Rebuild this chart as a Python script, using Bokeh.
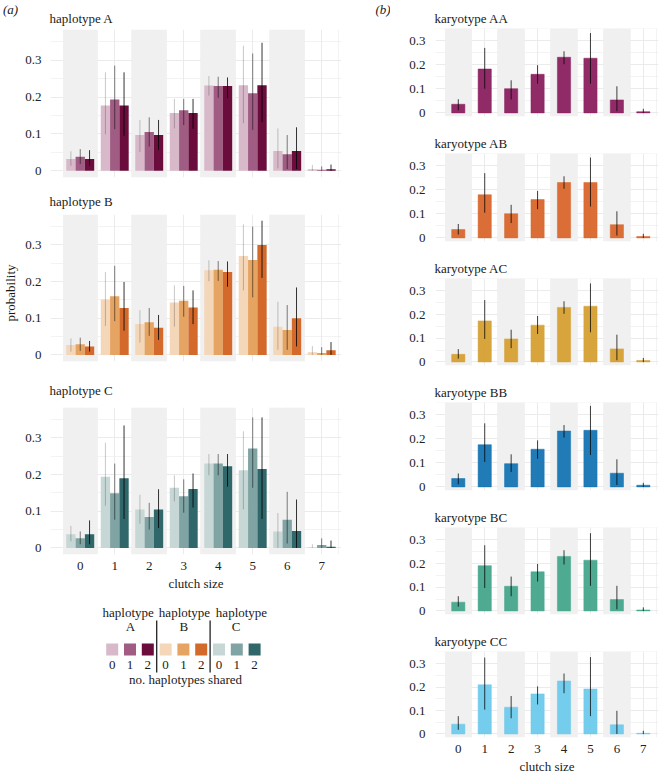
import math
from bokeh.plotting import figure
from bokeh.models import Range1d, FixedTicker, Label, Title
from bokeh.layouts import row, column
from bokeh.embed import file_html
from bokeh.resources import INLINE
from bokeh.core.properties import value

FONT = "Liberation Serif"

# ---------------- data ----------------
clutch_size = [0, 1, 2, 3, 4, 5, 6, 7]
clutch_labels = ["0", "1", "2", "3", "4", "5", "6", "7"]
y_ticks = [0.0, 0.1, 0.2, 0.3]
y_tick_labels = ["0", "0.1", "0.2", "0.3"]
y_minor = [0.05, 0.15, 0.25, 0.35]
shared_levels = ["0", "1", "2"]
haplotypes = ["A", "B", "C"]
karyotypes = ["AA", "AB", "AC", "BB", "BC", "CC"]

# haplotype A (no. shared 0, 1, 2)
hapA_mean_0 = [0.032, 0.177, 0.097, 0.157, 0.231, 0.232, 0.054, 0.0045]
hapA_lo_0 = [0.014, 0.099, 0.051, 0.115, 0.204, 0.129, 0.007, 0.0]
hapA_hi_0 = [0.053, 0.267, 0.138, 0.195, 0.257, 0.339, 0.115, 0.016]
hapA_mean_1 = [0.038, 0.193, 0.105, 0.164, 0.230, 0.210, 0.045, 0.003]
hapA_lo_1 = [0.019, 0.113, 0.066, 0.124, 0.198, 0.111, 0.005, 0.0]
hapA_hi_1 = [0.059, 0.285, 0.145, 0.195, 0.255, 0.318, 0.097, 0.012]
hapA_mean_2 = [0.032, 0.177, 0.097, 0.157, 0.230, 0.232, 0.054, 0.0045]
hapA_lo_2 = [0.014, 0.095, 0.057, 0.114, 0.197, 0.132, 0.005, 0.0]
hapA_hi_2 = [0.056, 0.267, 0.138, 0.195, 0.253, 0.347, 0.118, 0.017]

# haplotype B
hapB_mean_0 = [0.027, 0.151, 0.084, 0.143, 0.231, 0.270, 0.077, 0.007]
hapB_lo_0 = [0.009, 0.079, 0.034, 0.077, 0.201, 0.176, 0.014, 0.0]
hapB_hi_0 = [0.045, 0.226, 0.122, 0.190, 0.258, 0.356, 0.145, 0.024]
hapB_mean_1 = [0.029, 0.160, 0.089, 0.148, 0.232, 0.259, 0.068, 0.005]
hapB_lo_1 = [0.011, 0.092, 0.052, 0.104, 0.202, 0.157, 0.014, 0.0]
hapB_hi_1 = [0.047, 0.243, 0.128, 0.188, 0.256, 0.350, 0.136, 0.021]
hapB_mean_2 = [0.023, 0.128, 0.074, 0.129, 0.226, 0.300, 0.100, 0.013]
hapB_lo_2 = [0.009, 0.066, 0.041, 0.084, 0.186, 0.210, 0.023, 0.0]
hapB_hi_2 = [0.038, 0.199, 0.109, 0.176, 0.255, 0.366, 0.184, 0.035]

# haplotype C
hapC_mean_0 = [0.037, 0.194, 0.105, 0.164, 0.230, 0.212, 0.045, 0.001]
hapC_lo_0 = [0.018, 0.115, 0.066, 0.127, 0.198, 0.105, 0.0, 0.0]
hapC_hi_0 = [0.060, 0.287, 0.145, 0.198, 0.256, 0.318, 0.095, 0.010]
hapC_mean_1 = [0.026, 0.149, 0.084, 0.141, 0.230, 0.271, 0.077, 0.008]
hapC_lo_1 = [0.010, 0.077, 0.050, 0.096, 0.198, 0.164, 0.012, 0.0]
hapC_hi_1 = [0.045, 0.230, 0.123, 0.187, 0.256, 0.356, 0.153, 0.026]
hapC_mean_2 = [0.037, 0.190, 0.105, 0.161, 0.223, 0.215, 0.046, 0.003]
hapC_lo_2 = [0.010, 0.079, 0.054, 0.110, 0.167, 0.079, 0.0, 0.0]
hapC_hi_2 = [0.075, 0.334, 0.160, 0.203, 0.256, 0.356, 0.132, 0.020]

# karyotypes
karAA_mean = [0.036, 0.183, 0.101, 0.161, 0.232, 0.228, 0.054, 0.005]
karAA_lo = [0.011, 0.101, 0.056, 0.122, 0.203, 0.122, 0.007, 0.0]
karAA_hi = [0.057, 0.271, 0.136, 0.199, 0.257, 0.333, 0.111, 0.017]
karAB_mean = [0.035, 0.180, 0.101, 0.160, 0.231, 0.231, 0.055, 0.006]
karAB_lo = [0.014, 0.105, 0.062, 0.120, 0.205, 0.131, 0.010, 0.0]
karAB_hi = [0.058, 0.270, 0.138, 0.196, 0.257, 0.335, 0.111, 0.017]
karAC_mean = [0.032, 0.173, 0.097, 0.155, 0.230, 0.235, 0.055, 0.006]
karAC_lo = [0.014, 0.097, 0.058, 0.118, 0.203, 0.125, 0.007, 0.0]
karAC_hi = [0.054, 0.261, 0.136, 0.194, 0.256, 0.331, 0.115, 0.017]
karBB_mean = [0.035, 0.176, 0.097, 0.157, 0.233, 0.236, 0.057, 0.007]
karBB_lo = [0.011, 0.104, 0.062, 0.118, 0.206, 0.133, 0.008, 0.0]
karBB_hi = [0.056, 0.265, 0.136, 0.194, 0.258, 0.338, 0.115, 0.017]
karBC_mean = [0.037, 0.191, 0.104, 0.165, 0.230, 0.214, 0.048, 0.004]
karBC_lo = [0.018, 0.097, 0.062, 0.124, 0.196, 0.106, 0.007, 0.0]
karBC_hi = [0.062, 0.277, 0.145, 0.198, 0.256, 0.328, 0.106, 0.015]
karCC_mean = [0.042, 0.210, 0.114, 0.171, 0.226, 0.192, 0.039, 0.003]
karCC_lo = [0.018, 0.104, 0.067, 0.126, 0.174, 0.076, 0.0, 0.0]
karCC_hi = [0.076, 0.326, 0.162, 0.203, 0.258, 0.328, 0.099, 0.014]

hap_colors = {
    "A": ["#d8b9ca", "#a05c83", "#6b0d3c"],
    "B": ["#f4d6b8", "#e6a462", "#d4692c"],
    "C": ["#c6d7d6", "#80a4a3", "#30676a"],
}
kar_colors = {"AA": "#8b2060", "AB": "#d9662b", "AC": "#d6a033",
              "BB": "#1474b3", "BC": "#44a78c", "CC": "#6dcaeb"}

hap_data = {
    "A": [(hapA_mean_0, hapA_lo_0, hapA_hi_0), (hapA_mean_1, hapA_lo_1, hapA_hi_1), (hapA_mean_2, hapA_lo_2, hapA_hi_2)],
    "B": [(hapB_mean_0, hapB_lo_0, hapB_hi_0), (hapB_mean_1, hapB_lo_1, hapB_hi_1), (hapB_mean_2, hapB_lo_2, hapB_hi_2)],
    "C": [(hapC_mean_0, hapC_lo_0, hapC_hi_0), (hapC_mean_1, hapC_lo_1, hapC_hi_1), (hapC_mean_2, hapC_lo_2, hapC_hi_2)],
}
kar_data = {
    "AA": (karAA_mean, karAA_lo, karAA_hi), "AB": (karAB_mean, karAB_lo, karAB_hi),
    "AC": (karAC_mean, karAC_lo, karAC_hi), "BB": (karBB_mean, karBB_lo, karBB_hi),
    "BC": (karBC_mean, karBC_lo, karBC_hi), "CC": (karCC_mean, karCC_lo, karCC_hi),
}

# ---------------- styling helpers ----------------
GRID = "#ebebeb"
BAND = "#f0f0f0"
TXT = "#1a1a1a"
X_RANGE = (-0.862, 7.574)
LEFT_Y = (-0.018, 0.383)
RIGHT_Y = (-0.015, 0.352)
err_alpha = [0.22, 0.5, 0.8]


def base_fig(width, height, y_range, top, bottom, left, right):
    p = figure(width=width, height=height, x_range=Range1d(*X_RANGE), y_range=Range1d(*y_range),
               output_backend="svg", toolbar_location=None,
               min_border_left=left, min_border_right=right,
               min_border_top=top, min_border_bottom=bottom)
    p.outline_line_color = None
    p.xgrid.ticker = FixedTicker(ticks=clutch_size, minor_ticks=[c + 0.5 for c in clutch_size])
    p.ygrid.ticker = FixedTicker(ticks=y_ticks, minor_ticks=y_minor)
    for g in (p.xgrid[0], p.ygrid[0]):
        g.grid_line_color = GRID
        g.grid_line_width = 1
        g.minor_grid_line_color = GRID
        g.minor_grid_line_width = 0.6
    band_x = [c for c in clutch_size if c % 2 == 0]
    p.vbar(x=band_x, width=1, top=1, bottom=-1, fill_color=BAND, line_color=None)
    return p


def style_yaxis(p, standoff):
    ax = p.yaxis[0]
    ax.ticker = FixedTicker(ticks=y_ticks)
    ax.major_label_overrides = {t: l for t, l in zip(y_ticks, y_tick_labels)}
    ax.axis_line_color = None
    ax.major_tick_line_color = None
    ax.minor_tick_line_color = None
    ax.major_tick_out = 0
    ax.major_tick_in = 0
    ax.minor_tick_out = 0
    ax.major_label_standoff = standoff
    ax.major_label_text_font = FONT
    ax.major_label_text_font_size = "13px"
    ax.major_label_text_color = "#222222"


def style_xaxis(p, show):
    if not show:
        p.xaxis.visible = False
        return
    ax = p.xaxis[0]
    ax.ticker = FixedTicker(ticks=clutch_size)
    ax.major_label_overrides = {c: l for c, l in zip(clutch_size, clutch_labels)}
    ax.axis_line_color = None
    ax.major_tick_line_color = None
    ax.minor_tick_line_color = None
    ax.major_tick_out = 0
    ax.major_tick_in = 0
    ax.minor_tick_out = 0
    ax.major_label_standoff = 7
    ax.major_label_text_font = FONT
    ax.major_label_text_font_size = "13px"
    ax.major_label_text_color = "#222222"
    ax.axis_label = "clutch size"
    ax.axis_label_text_font = FONT
    ax.axis_label_text_font_size = "13px"
    ax.axis_label_text_font_style = "normal"
    ax.axis_label_text_color = TXT
    ax.axis_label_standoff = 3


def add_title(p, text, standoff):
    p.add_layout(Title(text=text, align="left", text_font=FONT, text_font_size="13px",
                       text_font_style="normal", text_color=TXT, standoff=standoff, offset=-1), "above")


def side_label(p, side, text, px, py, frame, yr, angle=0.0, align="left", italic=False):
    # text annotation placed in a side panel; (px, py) are pixel offsets converted to data units
    # frame = (frame left, frame top, frame width, frame height) in the same pixel space
    fl, ft, fw, fh = frame
    x = X_RANGE[0] + (px - fl) / fw * (X_RANGE[1] - X_RANGE[0])
    y = yr[1] - (py - ft) / fh * (yr[1] - yr[0])
    p.add_layout(Label(x=x, y=y, text=text, text_font=FONT,
                       text_font_style="italic" if italic else "normal", angle=angle,
                       text_font_size="13px", text_baseline="middle", text_align=align,
                       text_color=TXT), side)


# ---------------- left column (a) ----------------
LW = 390
L_LEFT, L_RIGHT = 50, 49
LFW = LW - L_LEFT - L_RIGHT
left_specs = [("A", 186, 29, 9, 8, False), ("B", 184, 27, 9, 11, False), ("C", 226, 36, 42, 20, True)]
left_figs = []
for hap, h, top, bottom, so, showx in left_specs:
    p = base_fig(LW, h, LEFT_Y, top, bottom, L_LEFT, L_RIGHT)
    for i, lvl in enumerate(shared_levels):
        m, lo, hi = hap_data[hap][i]
        xs = [c + (i - 1) * 0.27 for c in clutch_size]
        p.vbar(x=xs, top=m, bottom=0, width=0.27, fill_color=hap_colors[hap][i], line_color=None)
        p.segment(x0=xs, y0=lo, x1=xs, y1=hi, line_color="black", line_alpha=err_alpha[i], line_width=1)
    style_yaxis(p, 9)
    add_title(p, "haplotype " + hap, so)
    style_xaxis(p, showx)
    left_figs.append(p)

# panel letters and the shared y label (pixel offsets are in each figure's own canvas)
side_label(left_figs[0], "left", "(a)", 2.5, 9, (L_LEFT, 29, LFW, 148), LEFT_Y, italic=True)
side_label(left_figs[0], "right", "(b)", 375, 9, (L_LEFT, 29, LFW, 148), LEFT_Y, italic=True)
side_label(left_figs[1], "left", "probability", 10, 106, (L_LEFT, 27, LFW, 148), LEFT_Y,
           angle=math.pi / 2, align="center")

# legend figure (page coordinates: x 0..390, y 596..700; frame aligned with the panels above)
leg = figure(width=LW, height=104, x_range=Range1d(L_LEFT, LW - L_RIGHT), y_range=Range1d(700, 596),
             output_backend="svg", toolbar_location=None, min_border_left=L_LEFT,
             min_border_right=L_RIGHT, min_border_top=0, min_border_bottom=0)
leg.outline_line_color = None
leg.axis.visible = False
leg.grid.visible = False
sq_x0, sq_step = 111.7, 17.8
word_x = [127.7, 184, 241]
letter_x = [130, 183.3, 235.7]
sq_x, sq_c, dig_t = [], [], []
for g, hap in enumerate(haplotypes):
    for i, lvl in enumerate(shared_levels):
        sq_x.append(sq_x0 + (3 * g + i) * sq_step)
        sq_c.append(hap_colors[hap][i])
        dig_t.append(lvl)
leg.rect(x=sq_x, y=649, width=12, height=12, fill_color=sq_c, line_color=None)
leg.text(x=sq_x, y=[664] * len(sq_x), text=dig_t, text_align="center", text_baseline="middle",
         text_font=value(FONT), text_font_size="13px", text_color=TXT)
leg.text(x=word_x, y=[612] * 3, text=["haplotype"] * 3, text_align="center", text_baseline="middle",
         text_font=value(FONT), text_font_size="13px", text_color=TXT)
leg.text(x=letter_x, y=[626] * 3, text=haplotypes, text_align="center", text_baseline="middle",
         text_font=value(FONT), text_font_size="13px", text_color=TXT)
sep_x = [(sq_x[2] + sq_x[3]) / 2, (sq_x[5] + sq_x[6]) / 2]
leg.segment(x0=sep_x, y0=620, x1=sep_x, y1=672, line_color="#222222", line_width=1.3)
leg.text(x=[185], y=[679], text=["no. haplotypes shared"], text_align="center",
         text_baseline="middle", text_font=value(FONT), text_font_size="13px", text_color=TXT)

# ---------------- right column (b) ----------------
RW = 273
R_LEFT, R_RIGHT = 45, 5
right_specs = [("AA", 130, 28, 14), ("AB", 125, 23, 14), ("AC", 124, 22, 14),
               ("BB", 125, 23, 14), ("BC", 124, 22, 14), ("CC", 148, 22, 38)]
right_figs = []
for k, (kar, h, top, bottom) in enumerate(right_specs):
    p = base_fig(RW, h, RIGHT_Y, top, bottom, R_LEFT, R_RIGHT)
    m, lo, hi = kar_data[kar]
    p.vbar(x=clutch_size, top=m, bottom=0, width=0.5, fill_color=kar_colors[kar], fill_alpha=0.95,
           line_color=kar_colors[kar], line_alpha=0.5)
    p.segment(x0=clutch_size, y0=lo, x1=clutch_size, y1=hi, line_color="black", line_alpha=0.75, line_width=1)
    style_yaxis(p, 10)
    add_title(p, "karyotype " + kar, 6)
    style_xaxis(p, kar == "CC")
    right_figs.append(p)

layout = row(column(*left_figs, leg, spacing=0), column(*right_figs, spacing=0), spacing=0)
open("out.html", "w").write(file_html(layout, INLINE))
